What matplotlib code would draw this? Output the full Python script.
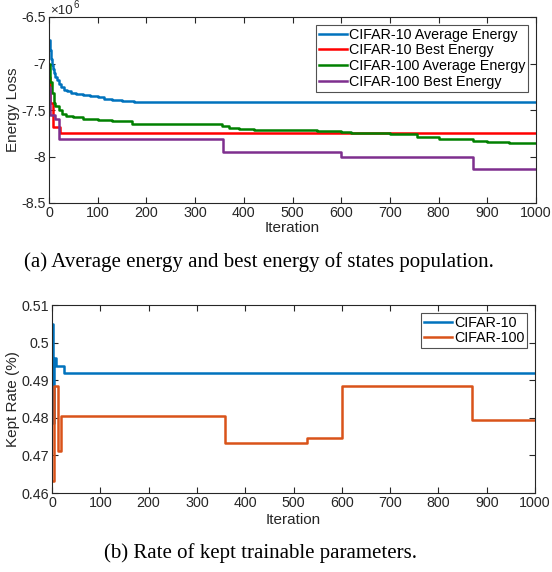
import numpy as np
import matplotlib
matplotlib.use("Agg")
import matplotlib.pyplot as plt

# ---- (a) energy loss, values in units of 1e6, step breakpoints by iteration
c10_avg_it = [0, 2, 4, 6, 8, 10, 13, 16, 20, 25, 30, 37, 45, 55, 70, 85, 100, 112, 130, 150, 175, 1000]
c10_avg_e = [-6.75, -6.85, -6.95, -7.02, -7.06, -7.10, -7.14, -7.18, -7.22, -7.25, -7.28, -7.30, -7.32, -7.33, -7.34, -7.35, -7.36, -7.38, -7.39, -7.40, -7.41, -7.41]

c10_best_it = [0, 3, 8, 22, 1000]
c10_best_e = [-7.15, -7.42, -7.68, -7.75, -7.75]

c100_avg_it = [0, 3, 6, 10, 13, 20, 27, 35, 50, 70, 100, 130, 170, 355, 370, 390, 420, 480, 550, 600, 620, 700, 755, 800, 870, 900, 945, 1000]
c100_avg_e = [-7.00, -7.20, -7.32, -7.42, -7.46, -7.50, -7.54, -7.56, -7.58, -7.60, -7.61, -7.62, -7.65, -7.67, -7.69, -7.70, -7.71, -7.72, -7.73, -7.74, -7.75, -7.76, -7.79, -7.81, -7.83, -7.84, -7.86, -7.86]

c100_best_it = [0, 2, 12, 20, 358, 600, 870, 1000]
c100_best_e = [-7.25, -7.55, -7.60, -7.81, -7.95, -8.00, -8.13, -8.13]

# ---- (b) kept rate
c10_rate_it = [0, 2, 4, 9, 24, 1000]
c10_rate = [0.505, 0.4786, 0.4959, 0.4939, 0.4919, 0.4919]

c100_rate_it = [0, 4, 12, 19, 358, 528, 600, 870, 1000]
c100_rate = [0.4631, 0.4885, 0.4712, 0.4804, 0.4733, 0.4745, 0.4885, 0.4795, 0.4795]

plt.rcParams['font.family'] = ['Liberation Sans', 'DejaVu Sans']

axcol = '#262626'
fs = 10.3
lfs = 11

fig = plt.figure(figsize=(5.52, 5.72), dpi=100)


def style(ax, xticks, xpad):
    ax.set_xlim(0, 1000)
    ax.set_xticks(xticks)
    ax.tick_params(direction='in', top=True, right=True, length=4, width=0.8,
                   colors=axcol, labelsize=fs, pad=2)
    for s in ax.spines.values():
        s.set_color(axcol)
        s.set_linewidth(0.8)
    ax.set_xlabel('Iteration', fontsize=lfs, color=axcol, labelpad=xpad)


def legend(ax):
    leg = ax.legend(loc='upper right', fontsize=fs, frameon=True, fancybox=False,
                    edgecolor=axcol, handlelength=2.0, handletextpad=0.1,
                    labelspacing=0.12, borderpad=0.2, borderaxespad=0.55)
    leg.get_frame().set_linewidth(0.8)
    for t in leg.get_texts():
        t.set_color('black')


ax1 = fig.add_axes([49 / 552, 1 - 203 / 572, 487 / 552, 186 / 572])
ax1.plot(c10_avg_it, c10_avg_e, drawstyle='steps-post', color='#0072BD', lw=1.8, label='CIFAR-10 Average Energy')
ax1.plot(c10_best_it, c10_best_e, drawstyle='steps-post', color='#FF0000', lw=1.8, label='CIFAR-10 Best Energy')
ax1.plot(c100_avg_it, c100_avg_e, drawstyle='steps-post', color='#008000', lw=1.8, label='CIFAR-100 Average Energy')
ax1.plot(c100_best_it, c100_best_e, drawstyle='steps-post', color='#7E2F8E', lw=1.8, label='CIFAR-100 Best Energy')
ax1.set_ylim(-8.5, -6.5)
ax1.set_yticks([-8.5, -8, -7.5, -7, -6.5])
ax1.set_yticklabels(['-8.5', '-8', '-7.5', '-7', '-6.5'])
style(ax1, np.arange(0, 1001, 100), 1)
ax1.set_ylabel('Energy Loss', fontsize=lfs, color=axcol, labelpad=1)
# exponent marker, drawn as two plain texts so it stays inside the figure
fig.text(50 / 552, 1 - 14 / 572, '\u00d710', fontsize=9.5, color=axcol, ha='left', va='baseline')
fig.text(73 / 552, 1 - 8 / 572, '6', fontsize=7, color=axcol, ha='left', va='baseline')
legend(ax1)

ax2 = fig.add_axes([52 / 552, 1 - 493 / 572, 483 / 552, 188 / 572])
ax2.plot(c10_rate_it, c10_rate, drawstyle='steps-post', color='#0072BD', lw=1.8, label='CIFAR-10')
ax2.plot(c100_rate_it, c100_rate, drawstyle='steps-post', color='#D95319', lw=1.8, label='CIFAR-100')
ax2.set_ylim(0.46, 0.51)
ax2.set_yticks([0.46, 0.47, 0.48, 0.49, 0.5, 0.51])
ax2.set_yticklabels(['0.46', '0.47', '0.48', '0.49', '0.5', '0.51'])
style(ax2, np.arange(0, 1001, 100), 2)
ax2.set_ylabel('Kept Rate (%)', fontsize=lfs, color=axcol, labelpad=1)
legend(ax2)

fig.text(259 / 552, 1 - 262 / 572, '(a) Average energy and best energy of states population.',
         family='Liberation Serif', fontsize=15, ha='center', va='center')
fig.text(260 / 552, 1 - 553 / 572, '(b) Rate of kept trainable parameters.',
         family='Liberation Serif', fontsize=15, ha='center', va='center')

fig.savefig('out.png', dpi=100)
